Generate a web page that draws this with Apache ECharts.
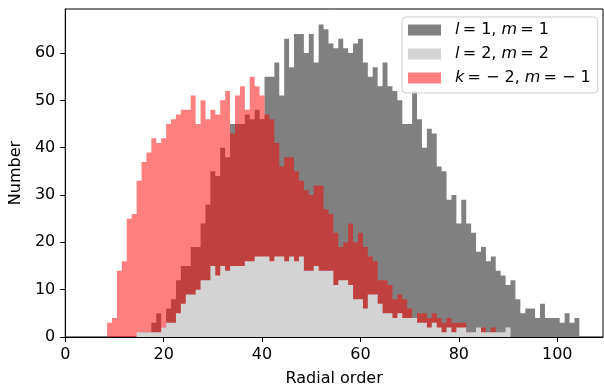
<!DOCTYPE html>
<html><head><meta charset="utf-8">
<script src="https://cdn.jsdelivr.net/npm/echarts@6/dist/echarts.min.js"></script>
<style>html,body{margin:0;padding:0;background:#fff}#c{width:604px;height:392px}</style>
</head><body><div id="c"></div>
<script>
// tick labels
const xTicks = [0, 20, 40, 60, 80, 100];
const yTicks = [0, 10, 20, 30, 40, 50, 60];
// histogram counts, one per radial order (bins of width 1 centred on integers)
const l1m1Start = 16;
const l1m1Counts = [1,1,3,5,2,6,8,12,15,15,19,19,24,28,35,34,40,38,45,45,45,47,46,48,46,55,55,58,51,63,57,64,64,60,64,58,66,65,62,61,63,61,60,62,63,58,55,57,53,58,53,52,50,45,45,52,46,40,44,43,36,35,29,30,24,29,24,22,18,19,16,17,14,13,11,12,8,5,6,6,4,7,4,4,4,3,5,3,4];
const l2m2Start = 15;
const l2m2Counts = [1,1,1,1,1,2,3,3,5,7,9,9,10,12,12,15,13,15,14,15,15,15,16,16,17,17,17,16,17,17,16,17,16,17,14,14,15,14,14,14,11,12,12,11,8,8,6,9,9,7,5,5,4,5,4,4,4,3,3,2,3,2,1,2,1,2,2,1,1,2,1,1,1,1,1,2];
const km2Start = 9;
const km2Counts = [3,4,14,16,25,26,33,37,39,42,41,42,45,46,47,48,48,51,45,50,46,48,47,50,52,43,51,53,48,55,53,51,47,46,41,36,38,38,35,33,31,30,32,32,27,26,22,19,20,24,20,22,19,17,16,12,12,11,8,9,8,6,4,5,5,4,5,4,3,4,3,3,3,1,1,1,2,1,2,1];
const seriesNames = ['l1m1', 'l2m2', 'km2'];
const legendLabels = {
  l1m1: '{i|l}{n|\u2009= 1, }{i|m}{n|\u2009= 1}',
  l2m2: '{i|l}{n|\u2009= 2, }{i|m}{n|\u2009= 2}',
  km2: '{i|k}{n|\u2009= \u2212 2, }{i|m}{n|\u2009= \u2212 1}'
};

function steps(start, counts) {
  const pts = counts.map((c, k) => [start + k - 0.5, c]);
  pts.push([start + counts.length - 0.5, counts[counts.length - 1]]);
  return pts;
}
function histSeries(name, start, counts, color, z) {
  return {
    type: 'line', name: name, step: 'end', data: steps(start, counts),
    symbol: 'none', showSymbol: false, color: color,
    lineStyle: { width: 0, color: color },
    areaStyle: { color: color, opacity: 1 },
    silent: true, z: z, animation: false
  };
}
const FONT = 'DejaVu Sans';
const chart = echarts.init(document.getElementById('c'), null, { renderer: 'canvas' });
chart.setOption({
  animation: false,
  backgroundColor: '#fff',
  grid: { left: 62, right: 1, top: 9, bottom: 48, show: true, borderColor: '#000', borderWidth: 1, backgroundColor: 'transparent' },
  xAxis: {
    type: 'value', min: 0, max: 109.3,
    name: 'Radial order', nameLocation: 'middle', nameGap: 34,
    nameTextStyle: { fontFamily: FONT, fontSize: 16, color: '#000' },
    axisLine: { show: true, lineStyle: { color: '#000', width: 1 } },
    axisTick: { show: true, length: 5, lineStyle: { color: '#000' }, customValues: xTicks },
    axisLabel: { fontFamily: FONT, fontSize: 16, color: '#000', margin: 10, customValues: xTicks },
    splitLine: { show: false }
  },
  yAxis: {
    type: 'value', min: 0, max: 69.3,
    name: 'Number', nameLocation: 'middle', nameGap: 36, nameRotate: 90,
    nameTextStyle: { fontFamily: FONT, fontSize: 16, color: '#000' },
    axisLine: { show: true, lineStyle: { color: '#000', width: 1 } },
    axisTick: { show: true, length: 5, lineStyle: { color: '#000' }, customValues: yTicks },
    axisLabel: { fontFamily: FONT, fontSize: 16, color: '#000', margin: 10, customValues: yTicks },
    splitLine: { show: false }
  },
  legend: {
    orient: 'vertical', left: 402, top: 17,
    padding: [5, 7, 7, 6], itemGap: 8, itemWidth: 33, itemHeight: 11,
    icon: 'rect', selectedMode: false,
    backgroundColor: 'rgba(255,255,255,0.8)', borderColor: '#cccccc', borderWidth: 1, borderRadius: 4,
    data: [
      { name: 'l1m1', itemStyle: { color: '#808080' } },
      { name: 'l2m2', itemStyle: { color: '#d3d3d3' } },
      { name: 'km2', itemStyle: { color: 'rgba(255,0,0,0.5)' } }
    ],
    formatter: function (name) { return legendLabels[name]; },
    textStyle: {
      fontFamily: FONT, fontSize: 16, color: '#000', lineHeight: 16, padding: [0, 0, 0, 9],
      rich: {
        i: { fontFamily: FONT, fontStyle: 'italic', fontSize: 16, lineHeight: 16, color: '#000' },
        n: { fontFamily: FONT, fontSize: 16, lineHeight: 16, color: '#000' }
      }
    }
  },
  series: [
    histSeries(seriesNames[0], l1m1Start, l1m1Counts, '#808080', 1),
    histSeries(seriesNames[2], km2Start, km2Counts, 'rgba(255,0,0,0.5)', 2),
    histSeries(seriesNames[1], l2m2Start, l2m2Counts, '#d3d3d3', 3)
  ]
});
</script>
</body></html>
